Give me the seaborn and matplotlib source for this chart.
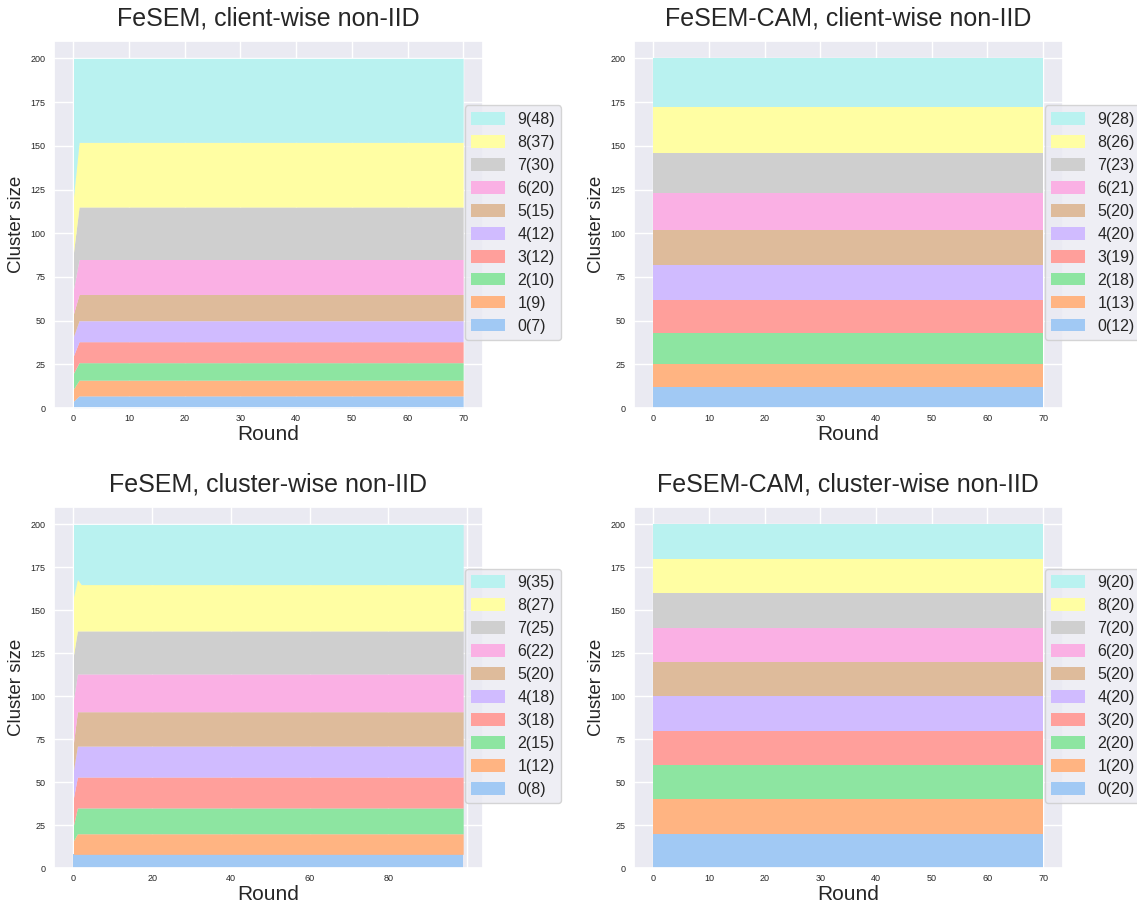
import numpy as np
import matplotlib
matplotlib.use("Agg")
import matplotlib.pyplot as plt
import seaborn as sns

# Cluster sizes per round for each experiment (cluster 0..9).
# Early rounds are listed explicitly; the last entry holds until the end.
clusters = list(range(10))

client_rounds = 71     # rounds 0..70
cluster_rounds = 100   # rounds 0..99

fesem_client_early = [
    [4, 7, 9, 10, 11, 13, 14, 21, 32, 79],   # round 0
]
fesem_client_final = [7, 9, 10, 12, 12, 15, 20, 30, 37, 48]

fesem_cam_client_early = []
fesem_cam_client_final = [12, 13, 18, 19, 20, 20, 21, 23, 26, 28]

fesem_cluster_early = [
    [8, 8, 9, 16, 16, 16, 25, 26, 34, 42],   # round 0
    [8, 12, 15, 18, 18, 20, 22, 25, 30, 32],  # round 1
]
fesem_cluster_final = [8, 12, 15, 18, 18, 20, 22, 25, 27, 35]

fesem_cam_cluster_early = []
fesem_cam_cluster_final = [20, 20, 20, 20, 20, 20, 20, 20, 20, 20]

titles = [
    "FeSEM, client-wise non-IID",
    "FeSEM-CAM, client-wise non-IID",
    "FeSEM, cluster-wise non-IID",
    "FeSEM-CAM, cluster-wise non-IID",
]


def build_sizes(early, final, n_rounds):
    rows = list(early) + [final] * (n_rounds - len(early))
    return np.array(rows, dtype=float).T  # shape: (clusters, rounds)


panels = [
    (build_sizes(fesem_client_early, fesem_client_final, client_rounds), fesem_client_final, 10),
    (build_sizes(fesem_cam_client_early, fesem_cam_client_final, client_rounds), fesem_cam_client_final, 10),
    (build_sizes(fesem_cluster_early, fesem_cluster_final, cluster_rounds), fesem_cluster_final, 20),
    (build_sizes(fesem_cam_cluster_early, fesem_cam_cluster_final, client_rounds), fesem_cam_cluster_final, 10),
]

sns.set_theme(style="darkgrid", palette="pastel")
plt.rcParams["font.family"] = ["Liberation Sans", "DejaVu Sans"]
colors = sns.color_palette("pastel", 10)

fig = plt.figure(figsize=(11.37, 9.09), dpi=100)
positions = [
    [0.0475, 0.551, 0.377, 0.404],
    [0.5576, 0.551, 0.377, 0.404],
    [0.0475, 0.045, 0.377, 0.397],
    [0.5576, 0.045, 0.377, 0.397],
]

for pos, title, (sizes, final, step) in zip(positions, titles, panels):
    ax = fig.add_axes(pos)
    rounds = np.arange(sizes.shape[1])
    labels = [f"{c}({v})" for c, v in zip(clusters, final)]
    ax.stackplot(rounds, sizes, labels=labels, colors=colors, linewidth=0)
    ax.set_title(title, fontsize=18, pad=11)
    ax.set_xlabel("Round", fontsize=15, labelpad=2)
    ax.set_ylabel("Cluster size", fontsize=13.5, labelpad=4)
    ax.tick_params(axis="both", labelsize=6.5, length=0)
    ax.tick_params(axis="x", pad=4)
    ax.tick_params(axis="y", pad=6)
    xt = np.arange(0, rounds[-1] + step, step)
    ax.set_xticks(xt)
    ax.set_xticklabels([str(t) if t <= rounds[-1] else "" for t in xt])
    ax.set_xlim(-0.05 * rounds[-1], 1.05 * rounds[-1])
    ax.set_ylim(0, 210)
    ax.set_yticks(np.arange(0, 201, 25))
    handles, labs = ax.get_legend_handles_labels()
    ax.legend(handles[::-1], labs[::-1], loc="center left",
              bbox_to_anchor=(0.958, 0.505), borderaxespad=0,
              fontsize=11.5, labelspacing=0.5, handlelength=2.1,
              handleheight=0.85)

fig.savefig("out.png", dpi=100)
